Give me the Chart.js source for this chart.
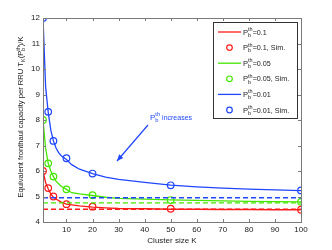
<!DOCTYPE html>
<html>
<head>
<meta charset="utf-8">
<script src="https://cdn.jsdelivr.net/npm/chart.js@4"></script>
<style>
  html, body { margin: 0; padding: 0; background: #fff; }
  #wrap { width: 332px; height: 250px; }
</style>
</head>
<body>
<div id="wrap"><canvas id="chart" width="332" height="250"></canvas></div>
<script>
// Data
var curveK = [1, 2, 3, 4, 5, 6, 7, 8, 10, 12, 15, 20, 25, 30, 40, 50, 60, 70, 80, 90, 100];
var red01 = [6.0, 5.55, 5.3, 5.1, 4.97, 4.9, 4.84, 4.78, 4.7, 4.67, 4.63, 4.58, 4.55, 4.53, 4.52, 4.5, 4.5, 4.49, 4.49, 4.48, 4.48];
var green005 = [8.0, 6.9, 6.3, 6.0, 5.78, 5.6, 5.5, 5.4, 5.28, 5.15, 5.1, 5.04, 4.97, 4.93, 4.9, 4.87, 4.85, 4.83, 4.81, 4.8, 4.79];
var blue001 = [12.0, 9.3, 8.3, 7.6, 7.18, 6.9, 6.72, 6.6, 6.45, 6.25, 6.07, 5.9, 5.76, 5.67, 5.55, 5.45, 5.38, 5.33, 5.29, 5.26, 5.23];

var simK = [1, 3, 5, 10, 20, 50, 100];
var redSim = [6.0, 5.33, 5.0, 4.7, 4.6, 4.52, 4.48];
var greenSim = [8.0, 6.3, 5.78, 5.28, 5.05, 4.86, 4.79];
var blueSim = [12.0, 8.32, 7.18, 6.5, 5.9, 5.44, 5.24];

var dashK = [1, 100];
var redLimit = 4.5;
var greenLimit = 4.75;
var blueLimit = 4.95;

var xTicks = [10, 20, 30, 40, 50, 60, 70, 80, 90, 100];
var yTicks = [4, 5, 6, 7, 8, 9, 10, 11, 12];
var legendNames = ["=0.1", "=0.1, Sim.", "=0.05", "=0.05, Sim.", "=0.01", "=0.01, Sim."];

var RED = "#ff1a1a", GREEN = "#44e600", BLUE = "#2046ff";
var FONT = "Liberation Sans, Arial, sans-serif";

function pts(xs, ys) {
    return xs.map(function (x, i) { return { x: x, y: ys[i] }; });
}

function lineSet(label, data, color) {
    return { label: label, data: data, borderColor: color, borderWidth: 1.3, pointRadius: 0, tension: 0, fill: false };
}
function simSet(label, data, color) {
    return { label: label, data: data, borderColor: color, backgroundColor: "rgba(0,0,0,0)", showLine: false, pointRadius: 3.3, pointBorderWidth: 1.2 };
}
function dashSet(data, color) {
    return { label: "", data: data, borderColor: color, borderWidth: 1.4, borderDash: [5, 3], pointRadius: 0, fill: false };
}

// P_b^th drawn with sub/superscript
function drawPbth(ctx, x, y, size) {
    ctx.font = size + "px " + FONT;
    ctx.textBaseline = "alphabetic";
    ctx.textAlign = "left";
    ctx.fillText("P", x, y);
    var w = ctx.measureText("P").width;
    ctx.font = (size * 0.72) + "px " + FONT;
    ctx.fillText("th", x + w, y - size * 0.45);
    ctx.fillText("b", x + w, y + size * 0.3);
    return x + w + ctx.measureText("th").width;
}

var extras = {
    id: "extras",
    afterDraw: function (chart) {
        var ctx = chart.ctx, a = chart.chartArea;
        var xs = chart.scales.x, ys = chart.scales.y;
        ctx.save();
        // box and inward ticks
        ctx.strokeStyle = "#7a7a7a";
        ctx.lineWidth = 1;
        ctx.strokeRect(a.left + 0.5, a.top + 0.5, a.right - a.left, a.bottom - a.top);
        ctx.beginPath();
        xTicks.forEach(function (t) {
            var px = Math.round(xs.getPixelForValue(t)) + 0.5;
            ctx.moveTo(px, a.bottom); ctx.lineTo(px, a.bottom - 3);
            ctx.moveTo(px, a.top); ctx.lineTo(px, a.top + 3);
        });
        yTicks.forEach(function (t) {
            var py = Math.round(ys.getPixelForValue(t)) + 0.5;
            ctx.moveTo(a.left, py); ctx.lineTo(a.left + 3, py);
            ctx.moveTo(a.right, py); ctx.lineTo(a.right - 3, py);
        });
        ctx.stroke();

        // x title
        ctx.fillStyle = "#222";
        ctx.font = "8px " + FONT;
        ctx.textAlign = "center";
        ctx.textBaseline = "middle";
        ctx.fillText("Cluster size K", (a.left + a.right) / 2, 241);

        // y title
        ctx.save();
        ctx.translate(23, 117);
        ctx.rotate(-Math.PI / 2);
        var fs = 7.6;
        var parts = [
            ["Equivalent fronthaul capacity per RRU T", 0, 1],
            ["K", 0.3, 0.72],
            ["(P", 0, 1],
            ["b", 0.3, 0.72],
            ["th", -0.45, 0.72],
            [")/K", 0, 1]
        ];
        var widths = [];
        parts.forEach(function (p, i) {
            ctx.font = (fs * p[2]) + "px " + FONT;
            widths[i] = ctx.measureText(p[0]).width;
        });
        // "b" and "th" stacked: advance only by the wider one
        var total = widths[0] + widths[1] + widths[2] + Math.max(widths[3], widths[4]) + widths[5];
        var cx = -total / 2;
        ctx.textAlign = "left";
        ctx.textBaseline = "alphabetic";
        parts.forEach(function (p, i) {
            ctx.font = (fs * p[2]) + "px " + FONT;
            ctx.fillText(p[0], cx, p[1] * fs);
            if (i !== 3) cx += (i === 4 ? Math.max(widths[3], widths[4]) : widths[i]);
        });
        ctx.restore();

        // annotation
        ctx.fillStyle = BLUE;
        ctx.strokeStyle = BLUE;
        var ex = drawPbth(ctx, 150, 120, 8);
        ctx.font = "7px " + FONT;
        ctx.fillText(" increases", ex, 120);
        var x1 = 148, y1 = 125, x2 = 117, y2 = 161;
        ctx.lineWidth = 1.2;
        ctx.beginPath(); ctx.moveTo(x1, y1); ctx.lineTo(x2, y2); ctx.stroke();
        var ang = Math.atan2(y2 - y1, x2 - x1);
        ctx.beginPath();
        ctx.moveTo(x2, y2);
        ctx.lineTo(x2 - 7 * Math.cos(ang - 0.4), y2 - 7 * Math.sin(ang - 0.4));
        ctx.lineTo(x2 - 7 * Math.cos(ang + 0.4), y2 - 7 * Math.sin(ang + 0.4));
        ctx.closePath(); ctx.fill();

        // legend
        var lx = 213.5, ly = 22.5, lw = 84, lh = 96;
        ctx.fillStyle = "#fff";
        ctx.fillRect(lx, ly, lw, lh);
        ctx.strokeStyle = "#333";
        ctx.lineWidth = 1;
        ctx.strokeRect(lx, ly, lw, lh);
        var colors = [RED, RED, GREEN, GREEN, BLUE, BLUE];
        legendNames.forEach(function (name, i) {
            var y = 32 + i * 15.6;
            ctx.strokeStyle = colors[i];
            if (i % 2 === 0) {
                ctx.lineWidth = 1.3;
                ctx.beginPath(); ctx.moveTo(218, y); ctx.lineTo(241, y); ctx.stroke();
            } else {
                ctx.lineWidth = 1.2;
                ctx.beginPath(); ctx.arc(229.5, y, 2.8, 0, Math.PI * 2); ctx.stroke();
            }
            ctx.fillStyle = "#222";
            var tx = drawPbth(ctx, 243, y + 2.5, 7.6);
            ctx.font = "7.2px " + FONT;
            ctx.fillText(name, tx, y + 2.5);
        });
        ctx.restore();
    }
};

new Chart("chart", {
    type: "line",
    data: {
        datasets: [
            dashSet(pts(dashK, [redLimit, redLimit]), RED),
            dashSet(pts(dashK, [greenLimit, greenLimit]), GREEN),
            dashSet(pts(dashK, [blueLimit, blueLimit]), BLUE),
            lineSet("0.1", pts(curveK, red01), RED),
            simSet("0.1 Sim", pts(simK, redSim), RED),
            lineSet("0.05", pts(curveK, green005), GREEN),
            simSet("0.05 Sim", pts(simK, greenSim), GREEN),
            lineSet("0.01", pts(curveK, blue001), BLUE),
            simSet("0.01 Sim", pts(simK, blueSim), BLUE)
        ]
    },
    options: {
        responsive: false,
        animation: false,
        events: [],
        layout: { padding: { top: 18, right: 31, left: 0, bottom: 0 } },
        plugins: { legend: { display: false }, tooltip: { enabled: false } },
        scales: {
            x: {
                type: "linear", min: 1, max: 100,
                afterBuildTicks: function (s) { s.ticks = xTicks.map(function (v) { return { value: v }; }); },
                afterFit: function (s) { s.height = 28; },
                grid: { display: false, drawTicks: false },
                border: { display: false },
                ticks: { color: "#222", font: { size: 8, family: FONT }, padding: 3, maxRotation: 0 }
            },
            y: {
                type: "linear", min: 4, max: 12,
                afterBuildTicks: function (s) { s.ticks = yTicks.map(function (v) { return { value: v }; }); },
                afterFit: function (s) { s.width = 43; },
                grid: { display: false, drawTicks: false },
                border: { display: false },
                ticks: { color: "#222", font: { size: 8, family: FONT }, padding: 3 }
            }
        }
    },
    plugins: [extras]
});
</script>
</body>
</html>
